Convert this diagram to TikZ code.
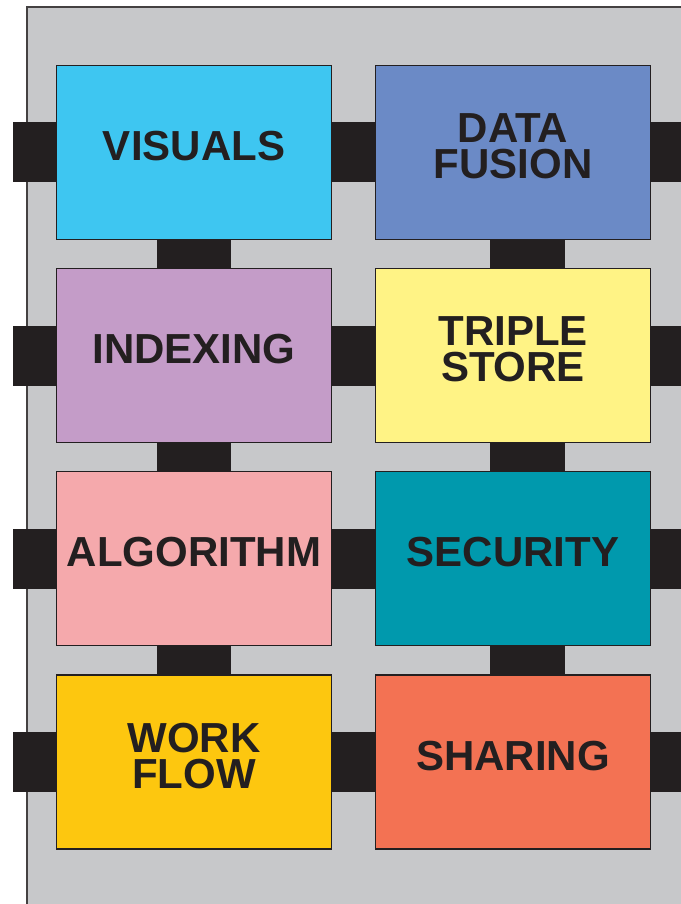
\documentclass[tikz,border=0pt]{standalone}
\usepackage{fontspec}
\setmainfont{Liberation Sans}
\usetikzlibrary{positioning}
\pgfdeclarelayer{panel}
\pgfdeclarelayer{bars}
\pgfsetlayers{panel,bars,main}

\definecolor{ink}{HTML}{231F20}
\definecolor{panelgray}{HTML}{C7C8CA}
\definecolor{cvis}{HTML}{3EC6F1}
\definecolor{cfus}{HTML}{6B8AC6}
\definecolor{cidx}{HTML}{C49CC8}
\definecolor{ctri}{HTML}{FFF385}
\definecolor{calg}{HTML}{F5A9AC}
\definecolor{csec}{HTML}{0099AD}
\definecolor{cwf}{HTML}{FDC70F}
\definecolor{cshr}{HTML}{F37253}

\tikzset{
  module/.style={draw=ink, line width=1.2pt, minimum width=275pt, minimum height=174pt,
    inner sep=0pt, outer sep=0pt, fill=#1},
  caption/.style={font=\bfseries\fontsize{42}{36}\selectfont, text=ink, align=center},
  bar/.style={fill=ink},
}

\begin{document}
\begin{tikzpicture}[x=1pt,y=-1pt]
\useasboundingbox (0,0) rectangle (680,904);

% modules, two columns by four rows
\node[module=cvis] (vis) at (194,152.5) {};
\node[module=cfus] (fus) at (513,152.5) {};
\node[module=cidx] (idx) at (194,355.5) {};
\node[module=ctri] (tri) at (513,355.5) {};
\node[module=calg] (alg) at (194,558.5) {};
\node[module=csec] (sec) at (513,558.5) {};
\node[module=cwf]  (wf)  at (194,762) {};
\node[module=cshr] (shr) at (513,762) {};

% captions
\node[caption] (tvis) at ([yshift=6pt]vis.center) {VISUALS};
\node[caption] (tfus) at ([yshift=6pt]fus.center) {DATA\\FUSION};
\node[caption] (tidx) at ([yshift=6pt]idx.center) {INDEXING};
\node[caption] (ttri) at ([yshift=6pt]tri.center) {TRIPLE\\STORE};
\node[caption] (talg) at ([yshift=6pt]alg.center) {ALGORITHM};
\node[caption] (tsec) at ([yshift=6pt]sec.center) {SECURITY};
\node[caption] (twf)  at ([yshift=6pt]wf.center)  {WORK\\FLOW};
\node[caption] (tshr) at ([yshift=6pt]shr.center) {SHARING};

% grey backing panel
\begin{pgfonlayer}{panel}
  \filldraw[fill=panelgray, draw=ink!85, line width=1.3pt] (27,7) rectangle (700,930);
\end{pgfonlayer}

% connecting bars
\begin{pgfonlayer}{bars}
  \foreach \l/\r in {vis/fus, idx/tri, alg/sec, wf/shr}{
    \fill[bar] ([yshift=30pt]\l.west) rectangle ([yshift=-30pt,xshift=-44pt]\l.west);
    \fill[bar] ([yshift=30pt]\l.east) rectangle ([yshift=-30pt]\r.west);
    \fill[bar] ([yshift=30pt]\r.east) rectangle ([yshift=-30pt,xshift=40pt]\r.east);
  }
  \foreach \a/\b in {vis/idx, idx/alg, alg/wf}{
    \fill[bar] ([xshift=-37pt]\a.south) rectangle ([xshift=37pt]\b.north);
  }
  \foreach \a/\b in {fus/tri, tri/sec, sec/shr}{
    \fill[bar] ([xshift=-23pt]\a.south) rectangle ([xshift=52pt]\b.north);
  }
\end{pgfonlayer}
\end{tikzpicture}
\end{document}
